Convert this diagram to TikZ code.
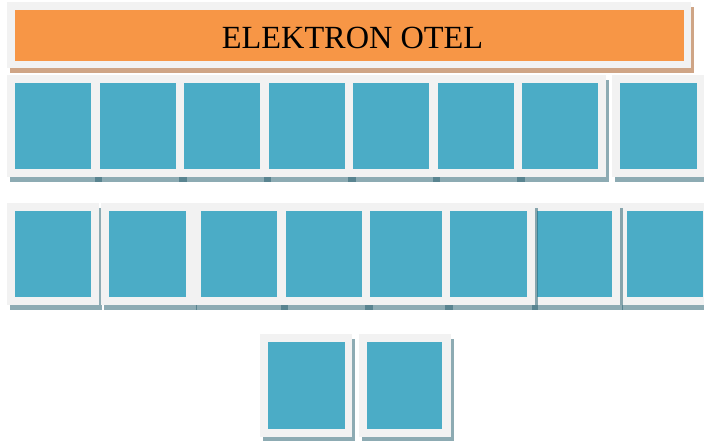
\documentclass[tikz,border=0pt]{standalone}
\usepackage{fontspec}
\setmainfont{Liberation Serif}
\usetikzlibrary{shadows}
\definecolor{framegray}{RGB}{242,242,242}
\definecolor{cellblue}{RGB}{75,172,198}
\definecolor{bannerorange}{RGB}{247,150,70}
\definecolor{bannertan}{RGB}{207,165,134}
\definecolor{shadowteal}{RGB}{46,100,115}
\tikzset{
  cellframe/.style={rectangle, fill=framegray, draw=none, inner sep=0pt, outer sep=0pt,
    drop shadow={shadow xshift=3pt, shadow yshift=-5pt, fill=shadowteal, opacity=0.54}},
  cellfill/.style={rectangle, fill=cellblue, draw=none, inner sep=0pt, outer sep=0pt},
  bannerframe/.style={rectangle, fill=framegray, draw=none, inner sep=0pt, outer sep=0pt,
    drop shadow={shadow xshift=3pt, shadow yshift=-5pt, fill=bannertan, opacity=1}},
  bannerfill/.style={rectangle, fill=bannerorange, draw=none, inner sep=0pt, outer sep=0pt},
  bannertext/.style={inner sep=0pt, font=\fontsize{32.3}{32.3}\selectfont, text=black}
}
% style, name, x1, y1, x2, y2 (pixels, y downwards)
\newcommand\mkbox[6]{\node[#1, minimum width={(#5)-(#3)}, minimum height={(#6)-(#4)}] (#2) at ({((#3)+(#5))/2},{((#4)+(#6))/2}) {};}
% cell: name, frame x1, frame x2, blue x1, blue x2, y-top of frame
\newcommand\mkcell[6]{%
  \mkbox{cellframe}{#1f}{#2}{#6}{#3}{#6+102}%
  \mkbox{cellfill}{#1b}{#4}{#6+8}{#5}{#6+94}}
\begin{document}
\begin{tikzpicture}[x=1pt,y=-1pt]
\clip (0,0) rectangle (704,441);
\fill[white] (0,0) rectangle (704,441);
% banner
\mkbox{bannerframe}{banf}{7}{2}{691}{68}
\mkbox{bannerfill}{banb}{15}{10}{684}{61}
\node[bannertext] (title) at (352.5,37.5) {ELEKTRON OTEL};
% row 1
\mkcell{ra}{7}{99}{15}{91}{75}
\mkcell{rb}{91.5}{183.5}{99.5}{175.5}{75}
\mkcell{rc}{176}{268}{184}{260}{75}
\mkcell{rd}{260.5}{352.5}{268.5}{344.5}{75}
\mkcell{re}{345}{437}{353}{429}{75}
\mkcell{rf}{429.5}{521.5}{437.5}{513.5}{75}
\mkcell{rg}{514}{606}{522}{598}{75}
\mkcell{rh}{612}{705}{620}{697}{75}
% row 2
\mkcell{sa}{7}{99}{15}{91}{203}
\mkcell{sb}{101}{194}{109}{186}{203}
\mkcell{sc}{193}{285}{201}{277}{203}
\mkcell{sd}{278}{370}{286}{362}{203}
\mkcell{se}{362}{450}{370}{442}{203}
\mkcell{sh}{619}{711}{627}{703}{203}
\mkcell{sg}{529}{620}{537}{612}{203}
\mkcell{sf}{442}{535}{450}{527}{203}
% row 3
\mkbox{cellframe}{taf}{260}{334}{352}{437}
\mkbox{cellfill}{tab}{268}{342}{345}{429}
\mkbox{cellframe}{tbf}{359}{334}{451}{437}
\mkbox{cellfill}{tbb}{367}{342}{442}{429}
\end{tikzpicture}
\end{document}
